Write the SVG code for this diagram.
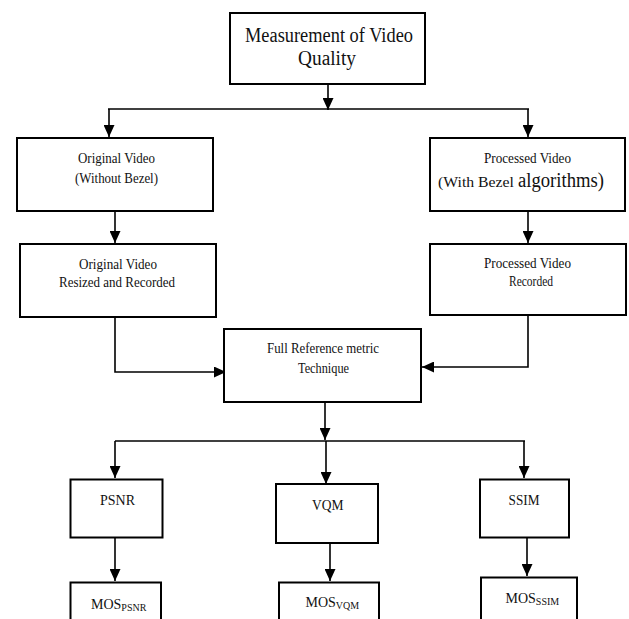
<svg xmlns="http://www.w3.org/2000/svg" width="629" height="619" viewBox="0 0 629 619" font-family="'Liberation Serif', 'DejaVu Serif', serif">
<style>
  .box { fill: #fff; stroke: #000; stroke-width: 2; }
  .ln { fill: none; stroke: #000; stroke-width: 1.6; }
  .arr { fill: none; stroke: #000; stroke-width: 1.6; marker-end: url(#ah); }
  text { font-family: 'Liberation Serif', 'DejaVu Serif', serif; fill: #111; }
  .t { font-size: 14px; }
  .big { font-size: 20px; }
  .m { font-size: 15px; }
  .sub { font-size: 10px; }
</style>
<defs>
  <marker id="ah" markerUnits="userSpaceOnUse" markerWidth="12" markerHeight="11" refX="12" refY="5.5" orient="auto">
    <path d="M0,0 L12,5.5 L0,11 z" fill="#000"/>
  </marker>
</defs>
<rect width="629" height="619" fill="#fff"/>

<g id="connectors">
  <line class="arr" x1="328" y1="84" x2="328" y2="110"/>
  <line class="ln" x1="108" y1="109" x2="529" y2="109"/>
  <line class="arr" x1="109" y1="109" x2="109" y2="137"/>
  <line class="arr" x1="528" y1="109" x2="528" y2="137"/>
  <line class="arr" x1="115" y1="211" x2="115" y2="243"/>
  <line class="arr" x1="528" y1="211" x2="528" y2="243"/>
  <polyline class="arr" points="115,317 115,372 226,372"/>
  <polyline class="arr" points="528,315 528,367 422,367"/>
  <line class="arr" x1="325" y1="402" x2="325" y2="440"/>
  <line class="ln" x1="115" y1="441" x2="525" y2="441"/>
  <line class="arr" x1="115" y1="441" x2="115" y2="478"/>
  <line class="arr" x1="326" y1="441" x2="326" y2="484"/>
  <line class="arr" x1="524" y1="441" x2="524" y2="478"/>
  <line class="arr" x1="115" y1="538" x2="115" y2="581"/>
  <line class="arr" x1="330" y1="543" x2="330" y2="581"/>
  <line class="arr" x1="527" y1="538" x2="527" y2="576"/>
</g>

<g id="measurement">
  <rect class="box" x="230" y="13" width="195" height="71"/>
  <text class="big" x="245" y="42" textLength="168" lengthAdjust="spacingAndGlyphs">Measurement of Video</text>
  <text class="big" x="298" y="65" textLength="58" lengthAdjust="spacingAndGlyphs">Quality</text>
</g>

<g id="original-video">
  <rect class="box" x="17" y="138" width="196" height="73"/>
  <text class="t" x="78" y="163" textLength="77" lengthAdjust="spacingAndGlyphs">Original Video</text>
  <text class="t" x="75" y="183" textLength="83" lengthAdjust="spacingAndGlyphs">(Without Bezel)</text>
</g>

<g id="original-resized">
  <rect class="box" x="20" y="244" width="196" height="73"/>
  <text class="t" x="79" y="269" textLength="78" lengthAdjust="spacingAndGlyphs">Original Video</text>
  <text class="t" x="59" y="287" textLength="116" lengthAdjust="spacingAndGlyphs">Resized and Recorded</text>
</g>

<g id="processed-video">
  <rect class="box" x="430" y="138" width="195" height="73"/>
  <text class="t" x="484" y="163" textLength="87" lengthAdjust="spacingAndGlyphs">Processed Video</text>
  <text class="t" x="438" y="187" textLength="76" lengthAdjust="spacingAndGlyphs">(With Bezel</text>
  <text class="big" x="518" y="187" textLength="86" lengthAdjust="spacingAndGlyphs">algorithms)</text>
</g>

<g id="processed-recorded">
  <rect class="box" x="430" y="244" width="196" height="71"/>
  <text class="t" x="484" y="268" textLength="87" lengthAdjust="spacingAndGlyphs">Processed Video</text>
  <text class="t" x="509" y="286" textLength="44" lengthAdjust="spacingAndGlyphs">Recorded</text>
</g>

<g id="full-reference">
  <rect class="box" x="224" y="329" width="197" height="73"/>
  <text class="t" x="267" y="353" textLength="112" lengthAdjust="spacingAndGlyphs">Full Reference metric</text>
  <text class="t" x="298" y="373" textLength="51" lengthAdjust="spacingAndGlyphs">Technique</text>
</g>

<g id="psnr">
  <rect class="box" x="70.5" y="479.5" width="92" height="58"/>
  <text class="m" x="100" y="505" textLength="35" lengthAdjust="spacingAndGlyphs">PSNR</text>
</g>

<g id="vqm">
  <rect class="box" x="276" y="484" width="102" height="59"/>
  <text class="m" x="312" y="510" textLength="31.5" lengthAdjust="spacingAndGlyphs">VQM</text>
</g>

<g id="ssim">
  <rect class="box" x="480" y="479.5" width="89" height="58"/>
  <text class="m" x="508.5" y="505" textLength="31" lengthAdjust="spacingAndGlyphs">SSIM</text>
</g>

<g id="mos-psnr">
  <rect class="box" x="70.5" y="582.5" width="90.5" height="50"/>
  <text class="t" x="91" y="609">MOS<tspan class="sub" dy="2">PSNR</tspan></text>
</g>

<g id="mos-vqm">
  <rect class="box" x="279" y="582.5" width="100" height="50"/>
  <text class="t" x="305.5" y="607">MOS<tspan class="sub" dy="2">VQM</tspan></text>
</g>

<g id="mos-ssim">
  <rect class="box" x="481" y="577.5" width="96" height="55"/>
  <text class="t" x="505.5" y="603">MOS<tspan class="sub" dy="2">SSIM</tspan></text>
</g>
</svg>
